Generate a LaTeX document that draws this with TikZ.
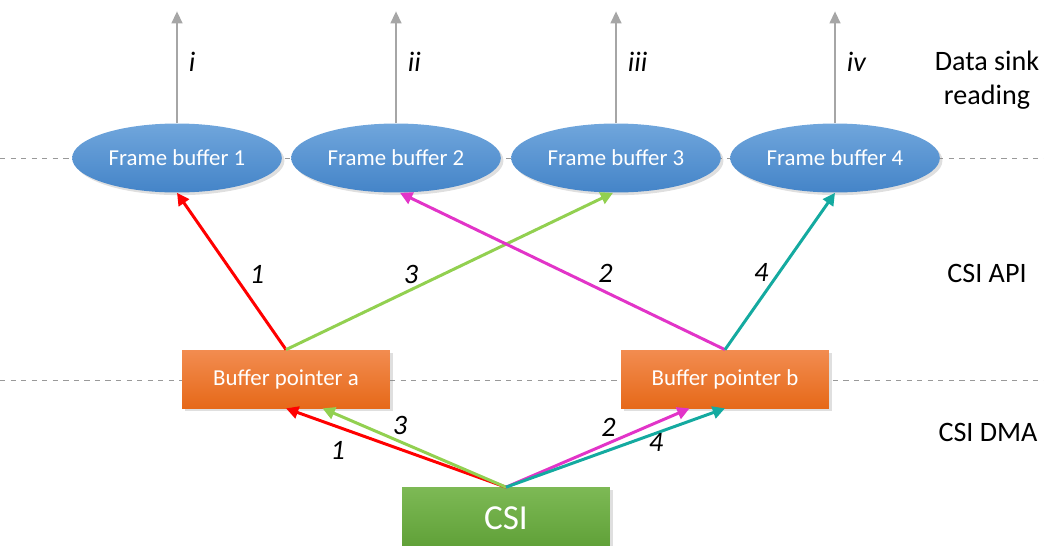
\documentclass[tikz,border=0pt]{standalone}
\usepackage{fontspec}
\setmainfont{Carlito}
\usetikzlibrary{arrows.meta,shapes.geometric,positioning,calc,shadows}

\definecolor{fbtop}{RGB}{112,166,220}
\definecolor{fbbot}{RGB}{68,132,200}
\definecolor{bptop}{RGB}{242,140,80}
\definecolor{bpbot}{RGB}{230,105,25}
\definecolor{csitop}{RGB}{125,185,85}
\definecolor{csibot}{RGB}{95,160,55}
\definecolor{lnred}{RGB}{255,0,0}
\definecolor{lngreen}{RGB}{146,208,80}
\definecolor{lnmag}{RGB}{226,52,200}
\definecolor{lnteal}{RGB}{20,170,160}

\tikzset{
    framebuf/.style={ellipse, minimum width=4.08cm, minimum height=1.38cm,
        top color=fbtop, bottom color=fbbot, draw=none, text=white,
        font=\fontsize{13}{15}\selectfont,
        drop shadow={opacity=0.25, shadow xshift=1.5pt, shadow yshift=-1.5pt}},
    bufptr/.style={rectangle, minimum width=4.16cm, minimum height=1.16cm,
        top color=bptop, bottom color=bpbot, draw=none, text=white,
        font=\fontsize{13}{15}\selectfont,
        drop shadow={opacity=0.25, shadow xshift=1.5pt, shadow yshift=-1.5pt}},
    csibox/.style={rectangle, minimum width=4.16cm, minimum height=1.22cm,
        top color=csitop, bottom color=csibot, draw=none, text=white,
        font=\fontsize{20}{24}\selectfont,
        drop shadow={opacity=0.25, shadow xshift=1.5pt, shadow yshift=-1.5pt}},
    flow/.style={line width=1.7pt, -{Triangle[length=7pt,width=7pt]}},
    sink/.style={line width=1.6pt, gray!70, -{Triangle[length=7pt,width=6pt]}},
    num/.style={font=\fontsize{16}{18}\selectfont\itshape, text=black, inner sep=0pt},
    side/.style={font=\fontsize{16}{19}\selectfont, align=center},
    layer/.style={gray!80, dashed, thin}
}

\begin{document}
\begin{tikzpicture}[x=0.02cm, y=-0.02cm]
    \useasboundingbox (0,0) rectangle (1044,545);

    % Layer separators
    \draw[layer] (0,158) -- (1044,158);
    \draw[layer] (0,380) -- (1044,380);

    % Frame buffers
    \node[framebuf] (fb1) at (177,158) {Frame buffer 1};
    \node[framebuf] (fb2) at (396,158) {Frame buffer 2};
    \node[framebuf] (fb3) at (616,158) {Frame buffer 3};
    \node[framebuf] (fb4) at (835,158) {Frame buffer 4};

    % Buffer pointers and CSI
    \node[bufptr] (bpa) at (286,379) {Buffer pointer a};
    \node[bufptr] (bpb) at (725,379) {Buffer pointer b};
    \node[csibox] (csi) at (506,518) {CSI};

    % Data sink reading
    \foreach \fb/\lab in {fb1/i, fb2/ii, fb3/iii, fb4/iv} {
        \coordinate (\fb top) at ($(\fb.north)+(0,-112)$);
        \draw[sink] (\fb.north) -- (\fb top)
            node[num, pos=0.55, right=6pt] {\lab};
    }

    % CSI API
    \draw[flow, lnred] (bpa.north) -- (fb1.south)
        node[num, pos=0.48, xshift=13.3pt] {1};
    \draw[flow, lngreen] (bpa.north) -- ($(fb3.south)+(-3,0)$)
        node[num, pos=0.40, xshift=-3.3pt, yshift=7pt] {3};
    \draw[flow, lnmag] (bpb.north) -- ($(fb2.south)+(4,0)$)
        node[num, pos=0.39, xshift=4.1pt, yshift=8.7pt] {2};
    \draw[flow, lnteal] (bpb.north) -- (fb4.south)
        node[num, pos=0.44, xshift=-6.9pt, yshift=4.8pt] {4};

    % CSI DMA
    \draw[flow, lnred] (csi.north) -- (bpa.south)
        node[num, pos=0.73, xshift=-4.3pt, yshift=-11.9pt] {1};
    \draw[flow, lngreen] (csi.north) -- ($(bpa.south)!0.35!(bpa.south east)$)
        node[num, pos=0.61, xshift=3.4pt, yshift=7.9pt] {3};
    \draw[flow, lnmag] (csi.north) -- ($(bpb.south)!0.34!(bpb.south west)$)
        node[num, pos=0.59, xshift=-3.3pt, yshift=7.8pt] {2};
    \draw[flow, lnteal] (csi.north) -- (bpb.south)
        node[num, pos=0.67, xshift=1.8pt, yshift=-4.9pt] {4};

    % Layer names
    \node[side] (sinklab) at (987,80) {Data sink\\reading};
    \node[side] (apilab) at (987,273) {CSI API};
    \node[side] (dmalab) at (988,432) {CSI DMA};
\end{tikzpicture}
\end{document}
